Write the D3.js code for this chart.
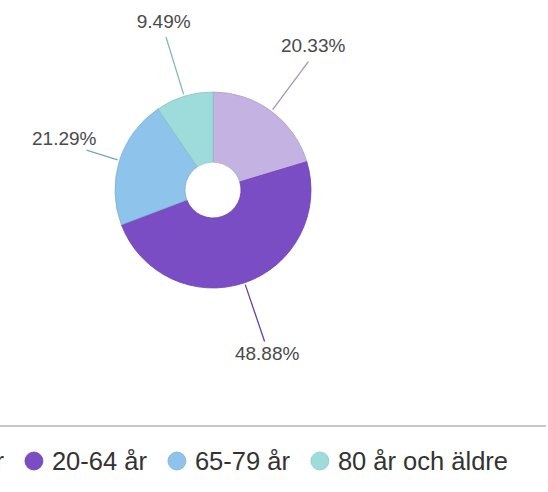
<!DOCTYPE html>
<html>
<head>
<meta charset="utf-8">
<script src="https://cdn.jsdelivr.net/npm/d3@7"></script>
<style>
  html, body { margin: 0; padding: 0; background: #fff; overflow: hidden; }
  text { font-family: "Liberation Sans", Arial, sans-serif; }
</style>
</head>
<body>
<svg id="chart"></svg>
<script>
// data
var categories = ['0-19 år', '20-64 år', '65-79 år', '80 år och äldre'];
var shares = [20.33, 48.88, 21.29, 9.49];
var sliceColors = ['#c4b2e2', '#7a4dc5', '#8ec4ec', '#9edcdc'];

let vWidth = 548,
  vHeight = 492,
  cx = 213,
  cy = 190,
  outerR = 98,
  innerR = 28;

var svg = d3.select('#chart')
    .attr('width', vWidth)
    .attr('height', vHeight);

var color = d3.scaleOrdinal().domain(categories).range(sliceColors);

var pie = d3.pie()
    .sort(null)
    .value(function (d) { return d.value; });

var arc = d3.arc()
    .innerRadius(innerR)
    .outerRadius(outerR);

var rows = categories.map(function (c, i) { return { name: c, value: shares[i] }; });
var arcs = pie(rows);

var g = svg.append('g')
    .attr('transform', 'translate(' + cx + ',' + cy + ')');

//slices
g.selectAll('path.slice')
  .data(arcs)
  .enter()
  .append('path')
    .attr('class', 'slice')
    .attr('d', arc)
    .attr('fill', function (d) { return color(d.data.name); })
    .attr('stroke', function (d) { return d3.color(color(d.data.name)).darker(0.35); })
    .attr('stroke-width', 0.8);

//labels with leader lines
var labelG = g.append('g');
arcs.forEach(function (d) {
  var a = (d.startAngle + d.endAngle) / 2,
    sx = Math.sin(a),
    sy = -Math.cos(a),
    txt = d.data.value.toFixed(2) + '%';

  var t = labelG.append('text')
    .attr('font-size', 19)
    .attr('fill', '#4a4a4a')
    .attr('dominant-baseline', 'central')
    .text(txt);
  var w = t.node().getComputedTextLength();

  var rEnd = 160, lx, ly, anchor;
  var side = Math.abs(sx) > 0.9;
  if (side) {
    // keep the label inside the frame
    var room = sx < 0 ? cx - 12 - 10 - w : (vWidth - cx) - 12 - 10 - w;
    rEnd = Math.min(rEnd, room / Math.abs(sx));
  }
  var ex = sx * rEnd, ey = sy * rEnd;
  if (side) {
    lx = ex - 10 * Math.sign(sx);
    ly = ey - 12;
    anchor = sx < 0 ? 'end' : 'start';
  } else {
    lx = ex + sx * 8;
    ly = sy < 0 ? ey - 16 : ey + 12;
    anchor = 'middle';
  }
  t.attr('x', lx).attr('y', ly).attr('text-anchor', anchor);

  labelG.insert('line', 'text')
    .attr('x1', sx * (outerR + 2))
    .attr('y1', sy * (outerR + 2))
    .attr('x2', ex)
    .attr('y2', ey)
    .attr('stroke', d3.color(color(d.data.name)).darker(0.5))
    .attr('stroke-width', 1.3);
});

//legend
svg.append('line')
  .attr('x1', 0).attr('x2', 546)
  .attr('y1', 426).attr('y2', 426)
  .attr('stroke', '#c8c8c8')
  .attr('stroke-width', 2);

var legend = svg.append('g').attr('transform', 'translate(0,461)');
var items = legend.selectAll('g')
  .data(categories)
  .enter()
  .append('g');

items.append('circle')
  .attr('r', 9)
  .attr('fill', function (d) { return color(d); })
  .attr('stroke', function (d) { return d3.color(color(d)).darker(0.3); })
  .attr('stroke-width', 0.8);

items.append('text')
  .attr('x', 18)
  .attr('dominant-baseline', 'central')
  .attr('font-size', 25.5)
  .attr('fill', '#333')
  .text(function (d) { return d; });

// lay items right to left so the last one ends at x=508
var xPos = 508;
var nodes = items.nodes();
for (var i = nodes.length - 1; i >= 0; i--) {
  var tw = d3.select(nodes[i]).select('text').node().getComputedTextLength();
  var cxItem = xPos - tw - 18;
  d3.select(nodes[i]).attr('transform', 'translate(' + cxItem + ',0)');
  xPos = cxItem - 30;
}
</script>
</body>
</html>
